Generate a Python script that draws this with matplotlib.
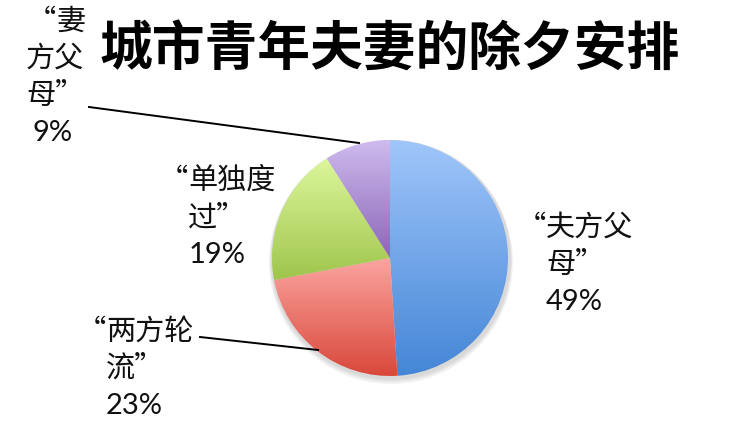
import matplotlib
matplotlib.use("Agg")
import matplotlib.pyplot as plt
import numpy as np

plt.rcParams['font.family'] = ['Noto Sans CJK SC', 'DejaVu Sans']

# data
title = "城市青年夫妻的除夕安排"
names = ["夫方父母", "两方轮流", "单独度过", "妻方父母"]
values = [49, 23, 19, 9]
pct_labels = ["49%", "23%", "19%", "9%"]
# label lines as shown in the chart (wrapped, opening quote hangs left)
label_lines = [
    ["夫方父", "母”"],
    ["两方轮", "流”"],
    ["单独度", "过”"],
    ["妻", "方父", "母”"],
]
top_colors = ["#a0c6fa", "#fba4a0", "#dcf79c", "#cfbbee"]
bot_colors = ["#4486d6", "#d9483a", "#9fc54c", "#8a66b8"]

W, H = 750, 432
fig = plt.figure(figsize=(7.5, 4.32), dpi=100)
ax = fig.add_axes([0, 0, 1, 1])

def Y(y):
    return H - y

cx, cy, r = 390, 258, 118

# soft shadow
for i in range(3):
    sh = plt.Circle((cx + 1, Y(cy) - 2 - i), r + 2 + i, color="#000000", alpha=0.05, lw=0)
    ax.add_patch(sh)

wedges, _ = ax.pie(values, startangle=90, counterclock=False, center=(cx, Y(cy)),
                   radius=r, wedgeprops=dict(linewidth=0, edgecolor="none"))

def hex2rgb(h):
    return np.array([int(h[i:i + 2], 16) for i in (1, 3, 5)]) / 255.0

for w, c0, c1 in zip(wedges, top_colors, bot_colors):
    w.set_facecolor("none")
    bb = w.get_path().get_extents(w.get_transform())
    inv = ax.transData.inverted()
    (x0, y0), (x1, y1) = inv.transform([(bb.x0, bb.y0), (bb.x1, bb.y1)])
    t = np.linspace(0, 1, 200)[:, None, None]
    img = hex2rgb(c0)[None, None, :] * (1 - t) + hex2rgb(c1)[None, None, :] * t
    im = ax.imshow(img, extent=[x0, x1, y0, y1], origin="upper", aspect="auto",
                   interpolation="bilinear", zorder=2)
    im.set_clip_path(w)

# title
ax.text(390, Y(50), title, fontsize=38, fontweight="bold", ha="center", va="center",
        color="#000000")

lh = 37
cjk_fs = 21
pct_fs = 21
tc = "#111111"

def put_label(x, y0, lines, pct, x_first=None, x_pct=None, pct_ha="left"):
    xf = x if x_first is None else x_first
    ax.text(xf, Y(y0), "“", fontsize=cjk_fs, ha="right", va="center", color=tc)
    for i, s in enumerate(lines):
        ax.text(xf if i == 0 else x, Y(y0 + i * lh), s, fontsize=cjk_fs,
                ha="left", va="center", color=tc)
    ax.text(x if x_pct is None else x_pct, Y(y0 + len(lines) * lh), pct,
            fontsize=pct_fs, ha=pct_ha, va="center", family="Lato", color=tc)

put_label(546, 228, label_lines[0], pct_labels[0])
put_label(106, 332, label_lines[1], pct_labels[1])
put_label(188, 181, label_lines[2], pct_labels[2], x_pct=189)
put_label(26, 22, label_lines[3], pct_labels[3], x_first=56, x_pct=53, pct_ha="center")

# leader lines
ax.plot([89, 359], [Y(107), Y(143)], color="black", lw=1.4, zorder=3)
ax.plot([200, 318], [Y(337), Y(350)], color="black", lw=1.4, zorder=3)

ax.set_xlim(0, W)
ax.set_ylim(0, H)
ax.set_aspect("auto")
ax.axis("off")

fig.savefig("out.png", dpi=100, facecolor="white")
